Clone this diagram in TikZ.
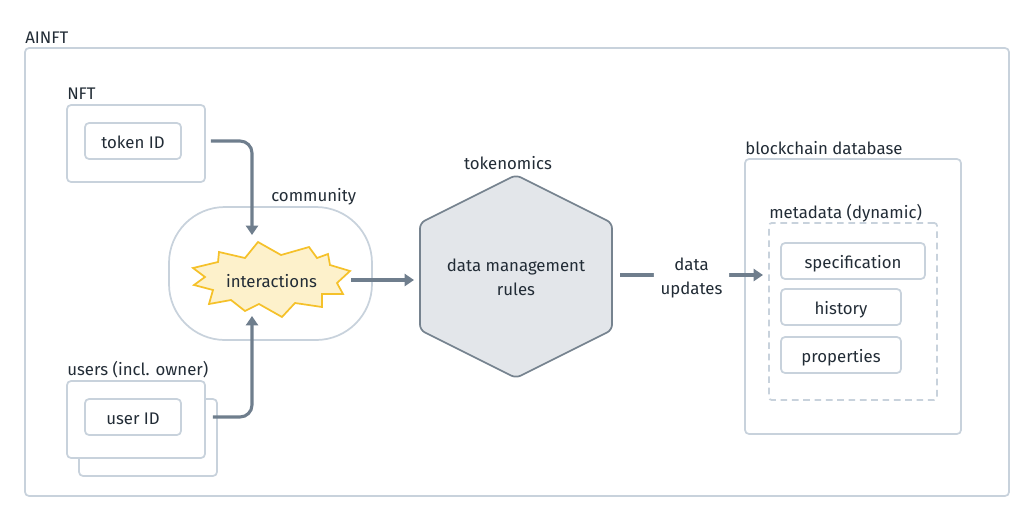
\documentclass[tikz,border=0pt]{standalone}
\usepackage{fontspec}
\setmainfont{Fira Sans}
\usetikzlibrary{arrows.meta}
\definecolor{boxc}{HTML}{C8D2DC}
\definecolor{arrc}{HTML}{6F7E8D}
\definecolor{txtc}{HTML}{222C36}
\definecolor{hexf}{HTML}{E3E6EA}
\definecolor{hexd}{HTML}{76838F}
\definecolor{burstf}{HTML}{FDF1CB}
\definecolor{burstd}{HTML}{F5C12A}
\tikzset{
  every node/.style={text=txtc, font=\fontsize{12.6}{15}\selectfont},
  bx/.style={draw=boxc, line width=1.3pt, rounded corners=3pt, inner sep=0pt},
  bt/.style={text height=1.06em, text depth=0pt},
  lbl/.style={inner sep=0pt, anchor=west},
  arr/.style={draw=arrc, line width=2.3pt, -{Triangle[length=7pt,width=9pt]}, rounded corners=9pt},
}
\begin{document}
\begin{tikzpicture}[x=0.75pt,y=-0.75pt]
\useasboundingbox (0,0) rectangle (1034,522);
% outer
\node[bx, minimum width=738pt, minimum height=336pt] (ainft) at (517,272) {};
\node[lbl] (ainftl) at (25,38) {AINFT};
% NFT
\node[bx, minimum width=103.5pt, minimum height=57.75pt] (nft) at (136,143.5) {};
\node[lbl] (nftl) at (67,94) {NFT};
\node[bx, bt, minimum width=72pt, minimum height=27pt] (token) at (133,141) {token ID};
% users
\node[bx, fill=white, minimum width=103.5pt, minimum height=57.75pt] (usersb) at (148,437.5) {};
\node[bx, fill=white, minimum width=103.5pt, minimum height=57.75pt] (users) at (136,419.5) {};
\node[lbl] (usersl) at (67,370) {users (incl. owner)};
\node[bx, bt, minimum width=72pt, minimum height=27pt] (user) at (133,417) {user ID};
% community
\node[bx, rounded corners=42pt, minimum width=152.25pt, minimum height=99.75pt] (comm) at (270.5,273.5) {};
\node[lbl] (comml) at (271,197) {community};
% burst
\draw[draw=burstd, fill=burstf, line width=1.3pt, line join=miter]
 (193,268) -- (218,262) -- (219,252) -- (245,258) -- (258,242) -- (281,255) -- (309,247) -- (317,258) -- (328,254) -- (330,265) -- (350,271) -- (337,283) -- (343,294) -- (322,294) -- (322,307) -- (295,303) -- (282,317) -- (259,304) -- (245,311) -- (231,300) -- (209,304) -- (213,290) -- (194,285) -- (205,277) -- cycle;
\node[inner sep=0pt, bt, minimum width=118.5pt, minimum height=57pt] (inter) at (271.5,280) {interactions};
% hexagon
\draw[draw=hexd, fill=hexf, line width=1.3pt, rounded corners=4pt]
 (516,175) -- (612,223) -- (612,330) -- (516,378) -- (420,330) -- (420,223) -- cycle;
\node[inner sep=0pt, minimum width=144pt, minimum height=152pt, align=center] (rules) at (516,277) {data management\\[3pt]rules};
\node[inner sep=0pt] (tokl) at (508,163) {tokenomics};
% blockchain
\node[bx, minimum width=162pt, minimum height=206.25pt] (bc) at (853,296.5) {};
\node[lbl] (bcl) at (745,148) {blockchain database};
\node[bx, dashed, dash pattern=on 5pt off 3.5pt, rounded corners=2pt, minimum width=126pt, minimum height=132.75pt] (meta) at (853,311.5) {};
\node[lbl] (metal) at (769,213) {metadata (dynamic)};
\node[bx, bt, minimum width=108pt, minimum height=27pt] (spec) at (853,261) {specification};
\node[bx, bt, minimum width=90pt, minimum height=27pt] (hist) at (841,307) {history};
\node[bx, bt, minimum width=90pt, minimum height=27pt] (prop) at (841,355) {properties};
% connectors
\coordinate (c1) at (252,235);
\coordinate (c2) at (252,316);
\draw[arr, shorten <=21.75pt] (token.east) -| (c1);
\draw[arr, shorten <=23.25pt] (user.east) -| (c2);
\draw[arr] (351,280) -- (414,280);
\coordinate (h1) at (620,275);
\coordinate (h2) at (763,275);
\draw[arr] (h1) -- node[fill=white, inner xsep=5pt, inner ysep=0pt, align=center, text=txtc, yshift=-2.5pt] (du) {data\\[3pt]updates} (h2);
\end{tikzpicture}
\end{document}
